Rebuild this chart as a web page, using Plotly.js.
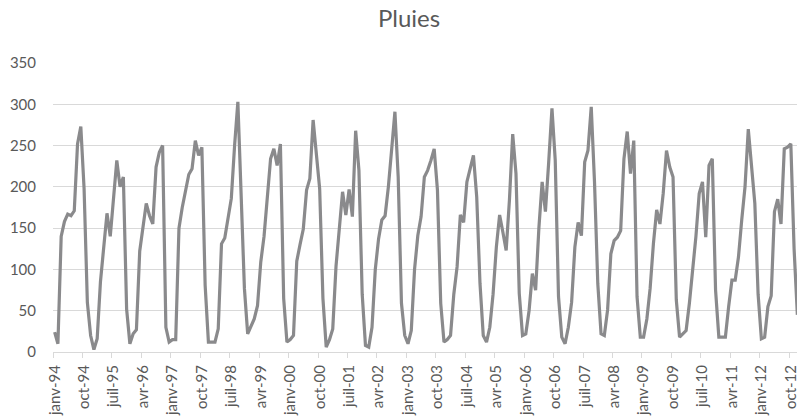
<!DOCTYPE html>
<html><head><meta charset="utf-8">
<script src="https://cdn.plot.ly/plotly-3.0.1.min.js"></script>
<style>html,body{margin:0;padding:0;overflow:hidden;background:#fff}#chart{width:800px;height:420px}</style>
</head><body><div id="chart"></div>
<script>
// Monthly rainfall, janv-94 .. déc-12
const rain1994=[24,10,140,158,167,165,171,252,273,198,60,20];
const rain1995=[3,16,85,125,168,140,185,232,200,212,52,10];
const rain1996=[22,27,122,152,180,165,155,224,242,250,30,12];
const rain1997=[15,15,150,175,195,215,222,256,238,248,81,12];
const rain1998=[12,12,28,131,138,160,186,250,303,190,77,22];
const rain1999=[32,40,56,109,140,190,234,246,226,252,65,12];
const rain2000=[15,20,110,130,149,196,210,281,234,198,65,6];
const rain2001=[15,28,104,145,194,166,197,164,268,220,70,8];
const rain2002=[6,30,100,137,160,165,200,245,291,212,59,20];
const rain2003=[10,26,100,141,164,212,220,232,246,196,59,12];
const rain2004=[15,20,70,103,166,157,206,222,238,188,83,20];
const rain2005=[12,30,70,127,166,145,123,184,264,216,71,20];
const rain2006=[22,50,95,75,150,206,170,230,295,232,67,18];
const rain2007=[10,30,60,127,157,141,230,244,297,206,83,22];
const rain2008=[20,51,119,135,139,147,234,267,216,256,67,18];
const rain2009=[18,40,77,131,172,155,192,244,224,212,63,18];
const rain2010=[22,26,59,100,140,192,206,139,226,234,75,18];
const rain2011=[18,18,55,87,87,115,160,200,270,225,180,70];
const rain2012=[16,18,55,68,170,185,155,246,248,252,125,45];

const tickLabels=["janv-94","oct-94","juil-95","avr-96","janv-97","oct-97","juil-98","avr-99","janv-00","oct-00","juil-01","avr-02","janv-03","oct-03","juil-04","avr-05","janv-06","oct-06","juil-07","avr-08","janv-09","oct-09","juil-10","avr-11","janv-12","oct-12"];
const yTicks=[0,50,100,150,200,250,300,350];

const values=[].concat(rain1994,rain1995,rain1996,rain1997,rain1998,rain1999,rain2000,rain2001,rain2002,rain2003,rain2004,rain2005,rain2006,rain2007,rain2008,rain2009,rain2010,rain2011,rain2012);
const xIdx=values.map((_,i)=>i);
const tickvals=tickLabels.map((_,k)=>k*9);
const minorvals=tickLabels.map((_,k)=>k*9-0.5);

const font='Lato, "Open Sans", sans-serif';
Plotly.newPlot('chart',[{
  x:xIdx,y:values,type:'scatter',mode:'lines',
  line:{color:'#8a8a8c',width:3.2},hoverinfo:'skip'
}],{
  width:800,height:420,
  margin:{l:53.3,r:0.7,t:62.7,b:68.3,pad:0},
  paper_bgcolor:'#fff',plot_bgcolor:'#fff',showlegend:false,
  title:{text:'Pluies',font:{family:font,size:24,color:'#595959'},x:409/800,xref:'container',xanchor:'center',y:1-19/420,yref:'container',yanchor:'middle'},
  xaxis:{type:'linear',range:[-0.5,227.5],tickmode:'array',tickvals:tickvals,ticktext:tickLabels,tickangle:-90,ticks:'',
    showgrid:false,zeroline:false,showline:true,linecolor:'#d9d9d9',linewidth:1,ticklabelstandoff:6,
    tickfont:{family:font,size:15,color:'#595959'},
    minor:{tickmode:'array',tickvals:minorvals,ticks:'outside',ticklen:5,tickcolor:'#d9d9d9',tickwidth:1,showgrid:false}},
  yaxis:{range:[0,350],tickmode:'array',tickvals:yTicks,showgrid:true,gridcolor:'#d9d9d9',gridwidth:1,
    zeroline:false,showline:false,ticks:'',tickfont:{family:font,size:15,color:'#595959'},ticklabelstandoff:16}
},{displayModeBar:false,staticPlot:true});
</script></body></html>
